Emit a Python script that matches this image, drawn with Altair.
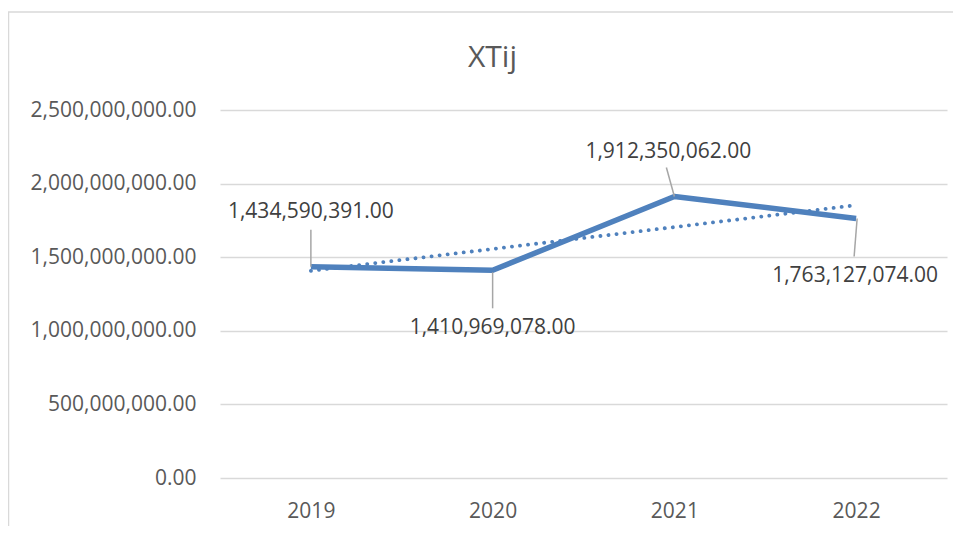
import altair as alt
import pandas as pd

# ---- data ----
years = [2019, 2020, 2021, 2022]
values = [1434590391.00, 1410969078.00, 1912350062.00, 1763127074.00]
labels = ["1,434,590,391.00", "1,410,969,078.00", "1,912,350,062.00", "1,763,127,074.00"]
y_ticks = [0, 500000000, 1000000000, 1500000000, 2000000000, 2500000000]
title_text = "XTij"

df = pd.DataFrame({"year": years, "value": values, "label": labels})

# ---- styling ----
FONT = "Open Sans"
BLUE = "#4f81bd"
GRID = "#d9d9d9"
AXIS_TXT = "#595959"
LBL_TXT = "#404040"
LEADER = "#a6a6a6"

# label placement (pixel offsets relative to each point): text dx/dy, leader start/end offsets
label_style = {
    2019: dict(dx=0, dy=-55, x1=0, y1=-37, x2=0, y2=0),
    2020: dict(dx=0, dy=58, x1=0, y1=2, x2=0, y2=38),
    2021: dict(dx=-6, dy=-45, x1=-8, y1=-29, x2=0, y2=0),
    2022: dict(dx=-1, dy=58, x1=1, y1=0, x2=-2, y2=38),
}

x = alt.X(
    "year:Q",
    scale=alt.Scale(domain=[2018.5, 2022.5], nice=False, zero=False),
    axis=alt.Axis(values=years, format="d", title=None, grid=False, ticks=False,
                  domain=False, labelFontSize=21, labelColor=AXIS_TXT, labelFont=FONT,
                  labelPadding=22),
)
y = alt.Y(
    "value:Q",
    scale=alt.Scale(domain=[0, 2500000000], nice=False),
    axis=alt.Axis(values=y_ticks, format=",.2f", title=None, ticks=False, domain=False,
                  gridColor=GRID, gridWidth=1.5, labelFontSize=21, labelColor=AXIS_TXT,
                  labelFont=FONT, labelPadding=24),
)

base = alt.Chart(df)

frame = alt.Chart(pd.DataFrame({"a": [0]})).mark_rect(
    fillOpacity=0, stroke=GRID, strokeWidth=1.5
).encode(x=alt.value(-211.5), x2=alt.value(780), y=alt.value(-98), y2=alt.value(460))

title = alt.Chart(pd.DataFrame({"t": [title_text]})).mark_text(
    font=FONT, fontSize=30, color=AXIS_TXT, align="center", baseline="alphabetic"
).encode(text="t:N", x=alt.value(272.5), y=alt.value(-43))

trend = base.transform_regression("year", "value", method="linear").mark_line(
    color=BLUE, strokeWidth=3.8, strokeDash=[0.1, 8], strokeCap="round"
).encode(x=x, y=y)

line = base.mark_line(color=BLUE, strokeWidth=5.5, strokeJoin="round").encode(x=x, y=y)

layers = [frame, title, trend, line]
for yr in years:
    s = label_style[yr]
    sub = base.transform_filter(alt.datum.year == yr)
    layers.append(
        sub.mark_rule(color=LEADER, strokeWidth=1.5,
                      xOffset=s["x1"], yOffset=s["y1"], x2Offset=s["x2"], y2Offset=s["y2"]
                      ).encode(x=x, y=y, x2="year:Q", y2="value:Q")
    )
    layers.append(
        sub.mark_text(dx=s["dx"], dy=s["dy"], font=FONT, fontSize=21, color=LBL_TXT,
                      align="center", baseline="middle").encode(x=x, y=y, text="label:N")
    )

chart = alt.layer(*layers).properties(
    width=727,
    height=368,
    autosize=alt.AutoSizeParams(type="none"),
    padding={"left": 212, "top": 102, "right": 6, "bottom": 48},
    background="white",
).configure_view(strokeWidth=0)

chart.save("out.html", embed_options={"renderer": "svg", "actions": False})
